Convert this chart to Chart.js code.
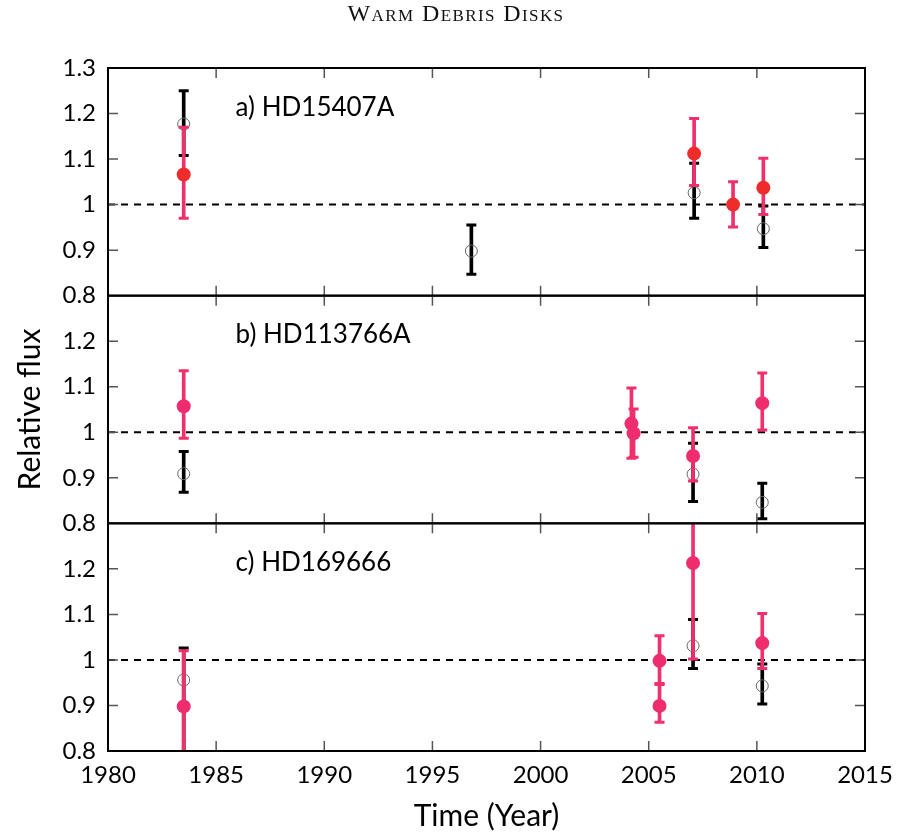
<!DOCTYPE html>
<html>
<head>
<meta charset="utf-8">
<script src="https://cdn.jsdelivr.net/npm/chart.js@4.4.1/dist/chart.umd.min.js"></script>
<style>
  html, body { margin: 0; padding: 0; background: #fff; }
  #wrap { position: relative; width: 899px; height: 834px; }
  #head { position: absolute; left: 0; top: 0px; width: 912px; text-align: center;
          font-family: "Liberation Serif", "DejaVu Serif", serif; font-size: 24px;
          font-variant: small-caps; color: #111; letter-spacing: 1.4px; }
  canvas { position: absolute; left: 0; top: 0; }
</style>
</head>
<body>
<div id="wrap">
  <canvas id="c" width="899" height="834"></canvas>
  <div id="head">Warm Debris Disks</div>
</div>
<script>
// ---- data ----
const xTicks = [1980, 1985, 1990, 1995, 2000, 2005, 2010, 2015];
const yTicks = [0.8, 0.9, 1.0, 1.1, 1.2, 1.3];
const panelNames = ["a) HD15407A", "b) HD113766A", "c) HD169666"];

// Panel a) HD15407A
const aPinkX  = [1983.5, 2007.1, 2008.9, 2010.3];
const aPinkY  = [1.066, 1.112, 1.000, 1.037];
const aPinkLo = [0.970, 1.042, 0.951, 0.978];
const aPinkHi = [1.170, 1.189, 1.050, 1.102];
const aBlackX  = [1983.5, 1996.8, 2007.1, 2010.3];
const aBlackY  = [1.177, 0.898, 1.026, 0.947];
const aBlackLo = [1.108, 0.847, 0.970, 0.906];
const aBlackHi = [1.250, 0.955, 1.091, 0.997];

// Panel b) HD113766A
const bPinkX  = [1983.5, 2004.2, 2004.3, 2007.05, 2010.25];
const bPinkY  = [1.057, 1.019, 0.998, 0.948, 1.064];
const bPinkLo = [0.987, 0.943, 0.945, 0.893, 1.005];
const bPinkHi = [1.135, 1.097, 1.051, 1.010, 1.130];
const bBlackX  = [1983.5, 2007.05, 2010.25];
const bBlackY  = [0.909, 0.908, 0.846];
const bBlackLo = [0.868, 0.848, 0.810];
const bBlackHi = [0.958, 0.976, 0.888];

// Panel c) HD169666
const cPinkX  = [1983.5, 2005.5, 2005.5, 2007.05, 2010.25];
const cPinkY  = [0.898, 0.998, 0.899, 1.213, 1.037];
const cPinkLo = [0.776, 0.948, 0.863, 1.002, 0.981];
const cPinkHi = [1.020, 1.053, 0.946, 1.305, 1.102];
const cBlackX  = [1983.5, 2007.05, 2010.25];
const cBlackY  = [0.956, 1.031, 0.943];
const cBlackLo = [0.790, 0.981, 0.903];
const cBlackHi = [1.026, 1.089, 0.991];

const refLevel = 1.0;
const labelPos = { x: 1985.9, y: 1.214 };

// ---- styles ----
const BLACK = '#000000';
const PINK = '#f0306c';
const RED = '#ee2c2c';
const PINKDOT = '#ee2c6e';

const datasets = [];
function pts(xs, ys) { return xs.map((x, i) => ({ x: x, y: ys[i] })); }
function addPanel(axis, px, py, plo, phi, dotColor, bx, by, blo, bhi) {
  datasets.push({ type: 'scatter', yAxisID: axis, showLine: true, data: [{x: 1980, y: refLevel}, {x: 2015, y: refLevel}],
    borderColor: BLACK, borderWidth: 2, borderDash: [7, 6], pointRadius: 0, order: 10 });
  datasets.push({ type: 'bar', yAxisID: axis, grouped: false, data: bx.map((x, i) => ({ x: x, y: [blo[i], bhi[i]] })),
    backgroundColor: BLACK, borderWidth: 0, barThickness: 3, order: 8 });
  datasets.push({ type: 'scatter', yAxisID: axis, data: pts(bx, blo).concat(pts(bx, bhi)),
    pointStyle: 'line', pointRadius: 5, borderColor: BLACK, borderWidth: 3, order: 8 });
  datasets.push({ type: 'scatter', yAxisID: axis, data: pts(bx, by),
    pointStyle: 'circle', pointRadius: 6, backgroundColor: 'rgba(0,0,0,0)', borderColor: '#666', borderWidth: 1, order: 7 });
  datasets.push({ type: 'bar', yAxisID: axis, grouped: false, data: px.map((x, i) => ({ x: x, y: [plo[i], phi[i]] })),
    backgroundColor: PINK, borderWidth: 0, barThickness: 3, order: 5 });
  datasets.push({ type: 'scatter', yAxisID: axis, data: pts(px, plo).concat(pts(px, phi)),
    pointStyle: 'line', pointRadius: 5, borderColor: PINK, borderWidth: 3, order: 5 });
  datasets.push({ type: 'scatter', yAxisID: axis, data: pts(px, py),
    pointStyle: 'circle', pointRadius: 7, backgroundColor: dotColor, borderWidth: 0, order: 3 });
}
addPanel('ya', aPinkX, aPinkY, aPinkLo, aPinkHi, RED, aBlackX, aBlackY, aBlackLo, aBlackHi);
addPanel('yb', bPinkX, bPinkY, bPinkLo, bPinkHi, PINKDOT, bBlackX, bBlackY, bBlackLo, bBlackHi);
addPanel('yc', cPinkX, cPinkY, cPinkLo, cPinkHi, PINKDOT, cBlackX, cBlackY, cBlackLo, cBlackHi);

const FONT = 'Lato, "Open Sans", sans-serif';
function yScale(showTop, withTitle) {
  return {
    type: 'linear', position: 'left', stack: 'flux', stackWeight: 1, offset: false,
    min: 0.8, max: 1.3, beginAtZero: false,
    afterBuildTicks: s => { s.ticks = yTicks.map(v => ({ value: v })); },
    afterFit: s => { s.width = 108; },
    ticks: { padding: 12, color: '#000', autoSkip: false, font: { family: FONT, size: 24 },
      callback: v => (Math.abs(v - 1.3) < 1e-6 && !showTop) ? '' : String(Math.round(v * 10) / 10) },
    grid: { display: false, drawTicks: false },
    border: { display: false },
    title: withTitle ? { display: true, text: 'Relative flux', color: '#000',
      font: { family: FONT, size: 30 }, padding: { top: 12, bottom: 0 } } : { display: false }
  };
}

const panelFrame = {
  id: 'panelFrame',
  afterDraw(chart) {
    const c = chart.ctx, xs = chart.scales.x;
    c.save();
    ['ya', 'yb', 'yc'].forEach((id, k) => {
      const s = chart.scales[id];
      c.strokeStyle = '#555'; c.lineWidth = 1.5;
      yTicks.forEach(v => {
        if (v <= 0.8 + 1e-6 || v >= 1.3 - 1e-6) return;
        const y = s.getPixelForValue(v);
        c.beginPath(); c.moveTo(xs.left, y); c.lineTo(xs.left + 10, y);
        c.moveTo(xs.right, y); c.lineTo(xs.right - 10, y); c.stroke();
      });
      xTicks.forEach(v => {
        if (v <= 1980 || v >= 2015) return;
        const x = xs.getPixelForValue(v);
        c.beginPath(); c.moveTo(x, s.top); c.lineTo(x, s.top + 10);
        c.moveTo(x, s.bottom); c.lineTo(x, s.bottom - 10); c.stroke();
      });
      c.strokeStyle = '#000'; c.lineWidth = 2;
      c.strokeRect(xs.left, s.top, xs.right - xs.left, s.bottom - s.top);
      c.fillStyle = '#000'; c.font = '26px ' + FONT; c.textBaseline = 'middle'; c.textAlign = 'left';
      c.fillText(panelNames[k], xs.getPixelForValue(labelPos.x), s.getPixelForValue(labelPos.y));
    });
    c.restore();
  }
};

new Chart(document.getElementById('c'), {
  type: 'scatter',
  data: { datasets: datasets },
  options: {
    responsive: false, animation: false, devicePixelRatio: 1,
    layout: { padding: { left: 0, right: 34, top: 68, bottom: 0 } },
    plugins: { legend: { display: false }, tooltip: { enabled: false }, title: { display: false } },
    scales: {
      yc: yScale(false, false),
      yb: yScale(false, true),
      ya: yScale(true, false),
      x: {
        type: 'linear', position: 'bottom', min: 1980, max: 2015, offset: false,
        afterBuildTicks: s => { s.ticks = xTicks.map(v => ({ value: v })); },
        afterFit: s => { s.height = 83; s.paddingLeft = 0; s.paddingRight = 0; },
        ticks: { padding: 10, color: '#000', autoSkip: false, font: { family: FONT, size: 24 }, callback: v => String(v), maxRotation: 0 },
        grid: { display: false, drawTicks: false, offset: false },
        border: { display: false },
        title: { display: true, text: 'Time (Year)', color: '#000', font: { family: FONT, size: 30 }, padding: { top: 0, bottom: 0 } }
      }
    }
  },
  plugins: [panelFrame]
});
</script>
</body>
</html>
